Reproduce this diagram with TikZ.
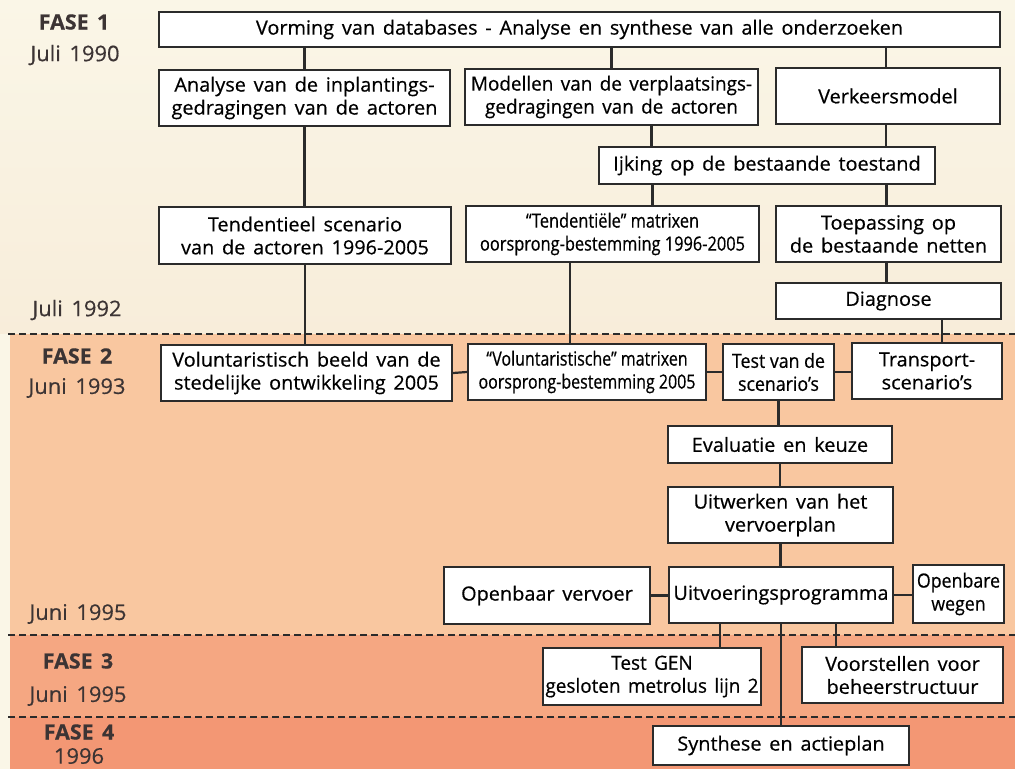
\documentclass[tikz,border=0pt]{standalone}
\usepackage{fontspec}
\setmainfont{Open Sans}[FakeStretch=1.02,FakeBold=0.5,WordSpace=1.5]
\newfontfamily\slimfont{Open Sans}[FakeStretch=0.97,FakeBold=0.5,WordSpace=1.5]
\newfontfamily\tightfont{Open Sans}[FakeStretch=0.91,FakeBold=0.5]
\newfontfamily\narrowfont{Open Sans}[FakeStretch=0.84,FakeBold=0.5]
\newfontfamily\narrowerfont{Open Sans}[FakeStretch=0.82,FakeBold=0.5]
\usepackage{xcolor}
\usepackage{tikz}
\usetikzlibrary{calc,backgrounds,positioning}

\definecolor{cream}{HTML}{FAF6E7}
\definecolor{creamlow}{HTML}{F8EDDA}
\definecolor{peach}{HTML}{F9C7A0}
\definecolor{salmon}{HTML}{F5A782}
\definecolor{coral}{HTML}{F39774}
\definecolor{ink}{HTML}{2B2B2B}
\definecolor{dateink}{HTML}{3C3434}

\begin{document}
\begin{tikzpicture}[x=1pt,y=-1pt]
    \tikzstyle{box}=[draw=ink,line width=2.2pt,fill=white,text=black,align=center,
      inner sep=0pt,font=\fontsize{19.5}{23}\selectfont]
    \tikzstyle{link}=[draw=ink,line width=2.2pt]
    \tikzstyle{phase}=[text=dateink,font=\fontsize{21}{24}\selectfont\bfseries]
    \tikzstyle{date}=[text=dateink,font=\fontsize{21.5}{24}\selectfont]
    \tikzstyle{border}=[draw=ink,line width=1.8pt,dash pattern=on 7pt off 4pt]

    \useasboundingbox (0,0) rectangle (1015,769);

    % fase 1
    \node[box,minimum width=841pt,minimum height=35pt] (vorming) at (579.5,29.5)
      {Vorming van databases - Analyse en synthese van alle onderzoeken};
    \node[box,minimum width=291pt,minimum height=56pt] (analyse) at (304.5,98)
      {Analyse van de inplantings-\\gedragingen van de actoren};
    \node[box,minimum width=293pt,minimum height=56pt,font=\fontsize{19.5}{23}\slimfont]
      (modellen) at (611.5,97)
      {Modellen van de verplaatsings-\\gedragingen van de actoren};
    \node[box,minimum width=224pt,minimum height=56pt] (verkeer) at (888,96)
      {Verkeersmodel};
    \node[box,minimum width=336pt,minimum height=37pt] (ijking) at (767,165.5)
      {Ijking op de bestaande toestand};
    \node[box,minimum width=292pt,minimum height=57pt] (tendscen) at (305,235.5)
      {Tendentieel scenario\\van de actoren 1996-2005};
    \node[box,minimum width=293pt,minimum height=56pt,font=\fontsize{19.5}{23}\narrowfont]
      (tendmat) at (612.5,234)
      {“Tendenti\"ele” matrixen\\oorsprong-bestemming 1996-2005};
    \node[box,minimum width=225pt,minimum height=56pt] (toepassing) at (888.5,234)
      {Toepassing op\\de bestaande netten};
    \node[box,minimum width=225pt,minimum height=36pt] (diagnose) at (888.5,301)
      {Diagnose};

    % fase 2
    \node[box,minimum width=291pt,minimum height=56pt] (volbeeld) at (306.5,373)
      {Voluntaristisch beeld van de\\stedelijke ontwikkeling 2005};
    \node[box,minimum width=238pt,minimum height=56pt,font=\fontsize{19.5}{23}\narrowerfont]
      (volmat) at (587,372)
      {“Voluntaristische” matrixen\\oorsprong-bestemming 2005};
    \node[box,minimum width=111pt,minimum height=56pt,font=\fontsize{19.5}{23}\tightfont]
      (testscen) at (778.5,372)
      {Test van de\\scenario’s};
    \node[box,minimum width=150pt,minimum height=56pt] (transport) at (927,371)
      {Transport-\\scenario’s};
    \node[box,minimum width=224pt,minimum height=37pt] (evaluatie) at (780,444.5)
      {Evaluatie en keuze};
    \node[box,minimum width=225pt,minimum height=56pt] (uitwerken) at (780.5,515)
      {Uitwerken van het\\vervoerplan};
    \node[box,minimum width=224pt,minimum height=56pt] (uitvoering) at (781,595)
      {Uitvoeringsprogramma};
    \node[box,minimum width=206pt,minimum height=57pt] (openvervoer) at (547,595.5)
      {Openbaar vervoer};
    \node[box,minimum width=91pt,minimum height=58pt,font=\fontsize{19.5}{23}\tightfont]
      (openwegen) at (958.5,594)
      {Openbare\\wegen};

    % fase 3 en 4
    \node[box,minimum width=218pt,minimum height=57pt,font=\fontsize{19.5}{23}\slimfont]
      (testgen) at (652,676.5)
      {Test GEN\\gesloten metrolus lijn 2};
    \node[box,minimum width=201pt,minimum height=56pt] (voorstellen) at (902.5,675)
      {Voorstellen voor\\beheerstructuur};
    \node[box,minimum width=256pt,minimum height=39pt] (synthese) at (781,745.5)
      {Synthese en actieplan};

    % fasen en data
    \node[phase] (fase1) at (74,22) {FASE 1};
    \node[date] (d1990) at (75,55) {Juli 1990};
    \node[date] (d1992) at (77,310) {Juli 1992};
    \node[phase] (fase2) at (77,356) {FASE 2};
    \node[date] (d1993) at (77,388) {Juni 1993};
    \node[date] (d1995a) at (78,614) {Juni 1995};
    \node[phase] (fase3) at (78,661) {FASE 3};
    \node[date] (d1995b) at (78,696) {Juni 1995};
    \node[phase] (fase4) at (79,732) {FASE 4};
    \node[date] (d1996) at (79,756) {1996};

    % verbindingen
    \draw[link] (analyse.north) -- (analyse.north |- vorming.south);
    \draw[link] (modellen.north) -- (modellen.north |- vorming.south);
    \draw[link] ([xshift=-2pt]verkeer.north) -- ([xshift=-2pt]verkeer.north |- vorming.south);
    \draw[link] ([xshift=40pt]modellen.south) -- ([xshift=40pt]modellen.south |- ijking.north);
    \draw[link] ([xshift=-2pt]verkeer.south) -- ([xshift=-2pt]verkeer.south |- ijking.north);
    \draw[link] ([xshift=40pt]tendmat.north) -- ([xshift=40pt]tendmat.north |- ijking.south);
    \draw[link] ([xshift=-2pt]toepassing.north) -- ([xshift=-2pt]toepassing.north |- ijking.south);
    \draw[link] (analyse.south) -- (analyse.south |- tendscen.north);
    \draw[link] ([xshift=-2pt]toepassing.south) -- ([xshift=-2pt]toepassing.south |- diagnose.north);
    \draw[link] (tendscen.south) -- (tendscen.south |- volbeeld.north);
    \draw[link] ([xshift=-17pt]volmat.north) -- ([xshift=-17pt]volmat.north |- tendmat.south);
    \draw[link] ([xshift=15pt]transport.north) -- ([xshift=15pt]transport.north |- diagnose.south);
    \draw[link] (volbeeld.east) -- (volmat.west);
    \draw[link] (volmat.east) -- (testscen.west);
    \draw[link] (testscen.east) -- (testscen.east -| transport.west);
    \draw[link] (testscen.south) -- (testscen.south |- evaluatie.north);
    \draw[link] (evaluatie.south) -- (evaluatie.south |- uitwerken.north);
    \draw[link] (uitwerken.south) -- (uitwerken.south |- uitvoering.north);
    \draw[link] (openvervoer.east) -- (openvervoer.east -| uitvoering.west);
    \draw[link] (uitvoering.east) -- (uitvoering.east -| openwegen.west);
    \draw[link] ([xshift=-61pt]uitvoering.south) -- ([xshift=-61pt]uitvoering.south |- testgen.north);
    \draw[link] ([xshift=55pt]uitvoering.south) -- ([xshift=55pt]uitvoering.south |- voorstellen.north);
    \draw[link] (uitvoering.south) -- (synthese.north);

    \begin{pgfonlayer}{background}
      \fill[top color=cream,bottom color=creamlow] (0,0) rectangle (1015,334);
      \fill[cream] (0,334) rectangle (10,769);
      \fill[peach] (10,334) rectangle (1015,635);
      \fill[salmon] (10,635) rectangle (1015,717);
      \fill[coral] (10,717) rectangle (1015,769);
      \draw[border] (8,334) -- (1015,334);
      \draw[border] (8,635) -- (1015,635);
      \draw[border] (8,717) -- (1015,717);
    \end{pgfonlayer}
  \end{tikzpicture}
\end{document}
